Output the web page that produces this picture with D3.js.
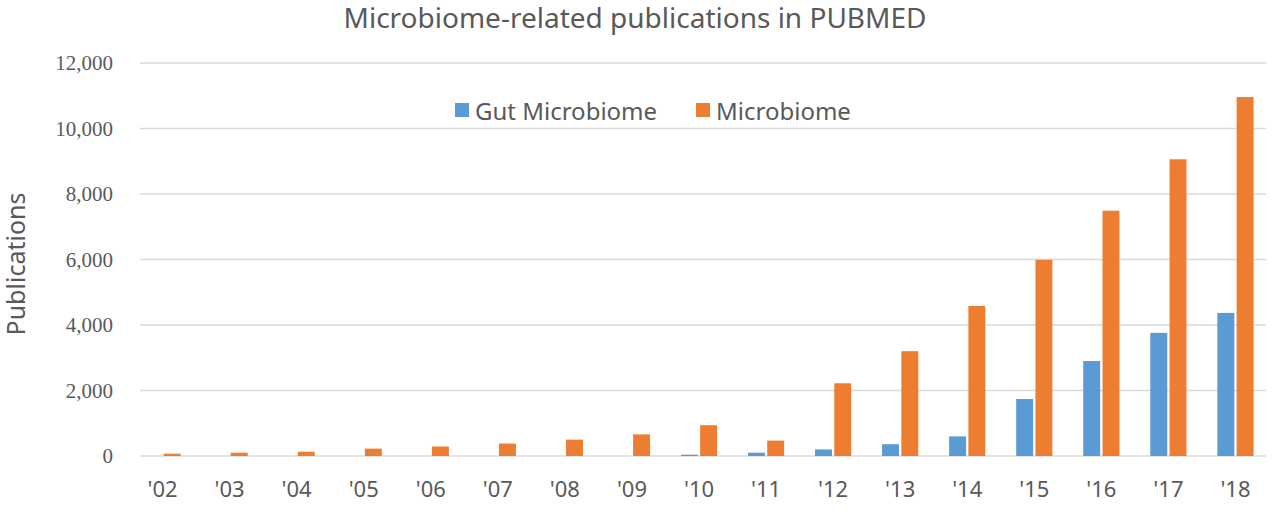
<!DOCTYPE html>
<html><head><meta charset="utf-8">
<script src="https://cdn.jsdelivr.net/npm/d3@7"></script>
<style>body{margin:0;background:#fff}</style>
</head><body>
<svg id="chart" width="1277" height="522"></svg>
<script>
// data
var years = ["'02","'03","'04","'05","'06","'07","'08","'09","'10","'11","'12","'13","'14","'15","'16","'17","'18"];
var gut = [0,0,0,0,0,0,0,0,40,100,200,360,600,1740,2900,3760,4370];
var micro = [70,100,130,225,290,380,500,660,940,470,2220,3200,4580,5990,7490,9060,10960];
var yTicks = [0,2000,4000,6000,8000,10000,12000];
var seriesNames = ["Gut Microbiome","Microbiome"];
var colors = ["#5b9bd5","#ed7d31"];

var svg = d3.select("#chart");
var x = d3.scaleBand().domain(years).range([129,1269]).paddingInner(0.46).paddingOuter(0.23);
var x1 = d3.scaleBand().domain([0,1]).range([0,x.bandwidth()]).paddingInner(0.12);
var y = d3.scaleLinear().domain([0,12000]).range([456,63]);

// gridlines
svg.append("g").selectAll("line").data(yTicks).enter().append("line")
    .attr("x1",140).attr("x2",1266)
    .attr("y1",function(d){return y(d);}).attr("y2",function(d){return y(d);})
    .attr("stroke","#d9d9d9").attr("stroke-width",1.5);

// y labels
svg.append("g").selectAll("text").data(yTicks).enter().append("text")
    .attr("x",113).attr("y",function(d){return y(d)+7;})
    .attr("text-anchor","end")
    .style("font-family","Liberation Serif").style("font-size","21px").style("fill","#595959")
    .text(d3.format(","));

// bars
var groups = svg.append("g").selectAll("g").data(years).enter().append("g")
    .attr("transform",function(d){return "translate("+x(d)+",0)";});
[gut,micro].forEach(function(arr,k){
    groups.append("rect")
        .attr("x",x1(k)).attr("width",x1.bandwidth())
        .attr("y",function(d,i){return y(arr[i]);})
        .attr("height",function(d,i){return y(0)-y(arr[i]);})
        .attr("fill",colors[k]);
});

// x labels
svg.append("g").selectAll("text").data(years).enter().append("text")
    .attr("x",function(d){return x(d)+x.bandwidth()/2;}).attr("y",497)
    .attr("text-anchor","middle")
    .style("font-family","Noto Sans").style("font-size","22px").style("fill","#595959")
    .text(function(d){return d;});

// title
svg.append("text").attr("x",635).attr("y",28).attr("text-anchor","middle")
    .style("font-family","Noto Sans").style("font-size","28px").style("fill","#595959")
    .text("Microbiome-related publications in PUBMED");

// axis title
svg.append("text").attr("transform","translate(25,264) rotate(-90)").attr("text-anchor","middle")
    .style("font-family","Noto Sans").style("font-size","25px").style("fill","#595959")
    .text("Publications");

// legend
var lx = [455,696];
seriesNames.forEach(function(n,k){
    svg.append("rect").attr("x",lx[k]).attr("y",103).attr("width",14).attr("height",14).attr("fill",colors[k]);
    svg.append("text").attr("x",lx[k]+20).attr("y",120)
        .style("font-family","Noto Sans").style("font-size","24px").style("fill","#595959").text(n);
});
</script>
</body></html>
